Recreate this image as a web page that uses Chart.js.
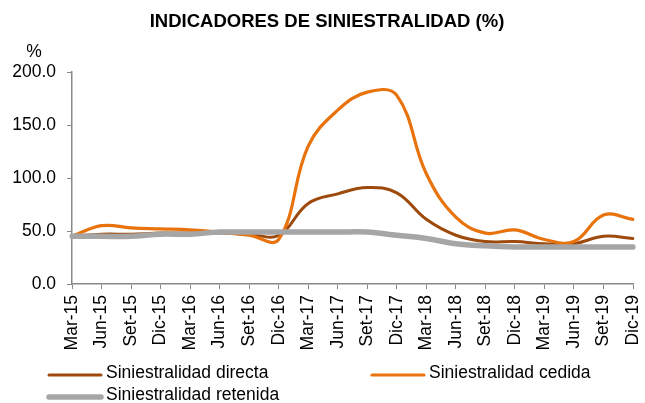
<!DOCTYPE html>
<html>
<head>
<meta charset="utf-8">
<script src="https://cdn.jsdelivr.net/npm/chart.js@4.4.0/dist/chart.umd.min.js"></script>
<style>
  html, body { margin: 0; padding: 0; background: #fff; }
  #wrap { width: 645px; height: 403px; }
</style>
</head>
<body>
<div id="wrap"><canvas id="chart" width="645" height="403"></canvas></div>
<script>
const categories = ['Mar-15', 'Jun-15', 'Set-15', 'Dic-15', 'Mar-16', 'Jun-16', 'Set-16', 'Dic-16',
  'Mar-17', 'Jun-17', 'Set-17', 'Dic-17', 'Mar-18', 'Jun-18', 'Set-18', 'Dic-18',
  'Mar-19', 'Jun-19', 'Set-19', 'Dic-19'];
const directa = [45, 47, 47, 48, 48, 48, 47, 46, 76, 85, 91, 86, 61, 46, 40, 40, 38, 38, 45, 43];
const cedida = [45, 55, 53, 52, 51, 49, 46, 42, 130, 164, 181, 178, 104, 63, 48, 51, 42, 40, 65, 61];
const retenida = [45, 45, 45, 47, 47, 49, 49, 49, 49, 49, 49, 46, 43, 38, 36, 35, 35, 35, 35, 35];
const yMin = 0, yMax = 200, yStep = 50;

const FONT = '"Liberation Sans", Arial, sans-serif';
const AXIS = '#898989';

// title, "%" and the legend, drawn on top of the chart
const extraText = {
  id: 'extraText',
  afterDraw(chart) {
    const ctx = chart.ctx;
    ctx.save();
    ctx.fillStyle = '#000';
    ctx.textBaseline = 'middle';
    ctx.textAlign = 'center';
    ctx.font = 'bold 18.5px ' + FONT;
    ctx.fillText('INDICADORES DE SINIESTRALIDAD (%)', 327, 22);
    ctx.font = '17.5px ' + FONT;
    ctx.fillText('%', 34, 52);

    const slots = [[49, 375], [372, 375], [49, 397]];
    chart.data.datasets.forEach((ds, i) => {
      const [x, y] = slots[i];
      ctx.strokeStyle = ds.borderColor;
      ctx.lineWidth = ds.borderWidth;
      ctx.lineCap = 'round';
      ctx.beginPath();
      ctx.moveTo(x, y);
      ctx.lineTo(x + 52, y);
      ctx.stroke();
      ctx.textAlign = 'left';
      ctx.fillText(ds.label, x + 57, y - 2);
    });
    ctx.restore();
  }
};

new Chart(document.getElementById('chart'), {
  type: 'line',
  data: {
    labels: categories,
    datasets: [
      { label: 'Siniestralidad directa', data: directa, borderColor: '#9E4A0C', borderWidth: 3, order: 3 },
      { label: 'Siniestralidad cedida', data: cedida, borderColor: '#E8720C', borderWidth: 3.2, order: 2 },
      { label: 'Siniestralidad retenida', data: retenida, borderColor: '#A6A6A6', borderWidth: 5.5, order: 1 }
    ]
  },
  options: {
    responsive: false,
    animation: false,
    devicePixelRatio: 1,
    layout: { padding: { left: 0, right: 12, top: 72, bottom: 0 } },
    elements: {
      point: { radius: 0 },
      line: { tension: 0.4, fill: false, borderCapStyle: 'round' }
    },
    plugins: {
      legend: { display: false },
      tooltip: { enabled: false },
      title: { display: false }
    },
    scales: {
      x: {
        grid: { drawOnChartArea: false, drawTicks: true, tickLength: 5, color: AXIS },
        border: { color: AXIS, width: 1.5 },
        ticks: {
          autoSkip: false, maxRotation: 90, minRotation: 90, padding: 6,
          color: '#000', font: { family: FONT, size: 17.5 }
        },
        afterFit(scale) {
          scale.height = 119;
          scale.paddingLeft = 0;
          scale.paddingRight = 0;
        }
      },
      y: {
        min: yMin, max: yMax,
        grid: { drawOnChartArea: false, drawTicks: true, tickLength: 5, color: AXIS },
        border: { color: AXIS, width: 1.5 },
        ticks: {
          stepSize: yStep, padding: 11, color: '#000',
          font: { family: FONT, size: 17.5 },
          callback: v => v.toFixed(1)
        },
        afterFit(scale) { scale.width = 72; }
      }
    }
  },
  plugins: [extraText]
});
</script>
</body>
</html>
